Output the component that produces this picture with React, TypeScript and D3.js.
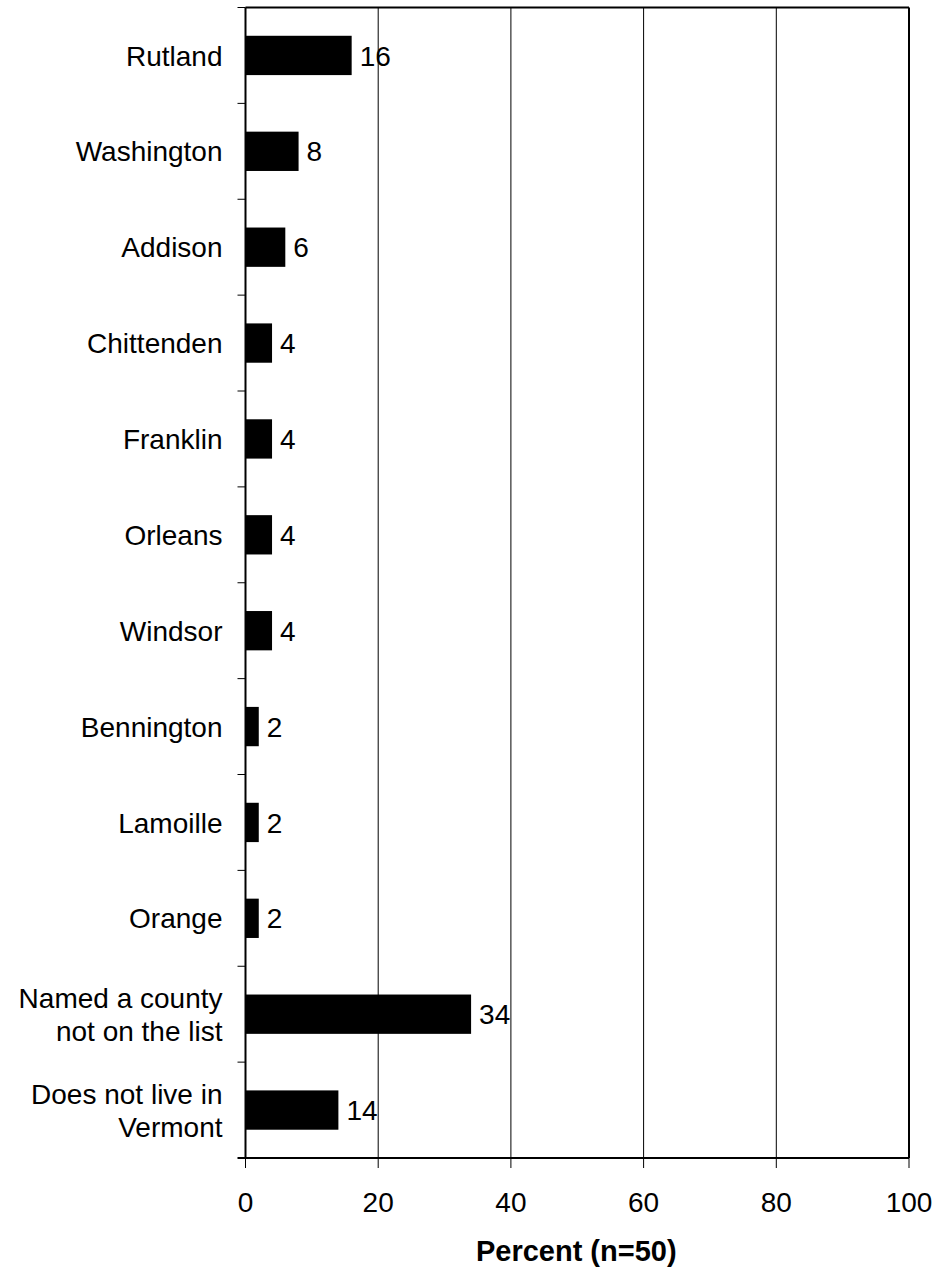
import React from 'react';
import * as d3 from 'd3';

const categories = [
  ['Rutland'],
  ['Washington'],
  ['Addison'],
  ['Chittenden'],
  ['Franklin'],
  ['Orleans'],
  ['Windsor'],
  ['Bennington'],
  ['Lamoille'],
  ['Orange'],
  ['Named a county', 'not on the list'],
  ['Does not live in', 'Vermont'],
];
const values = [16, 8, 6, 4, 4, 4, 4, 2, 2, 2, 34, 14];
const xTicks = [0, 20, 40, 60, 80, 100];
const xTitle = 'Percent (n=50)';

const width = 937;
const height = 1270;
const margin = { top: 7.5, right: 28, bottom: 112, left: 245.5 };
const font = '"Liberation Sans", Arial, sans-serif';

const App = () => {
  const innerW = width - margin.left - margin.right;
  const innerH = height - margin.top - margin.bottom;

  const x = d3.scaleLinear().domain([0, 100]).range([0, innerW]);
  const keys = categories.map((c) => c.join(' '));
  // bars sit in the middle ~40% of each band
  const y = d3.scaleBand().domain(keys).range([0, innerH]).paddingInner(0.59).paddingOuter(0.295);
  const band = d3.scaleBand().domain(keys).range([0, innerH]);

  return (
    <svg width={width} height={height} style={{ position: 'absolute', left: 0, top: 0 }}>
      <rect width={width} height={height} fill="#fff" />
      <g transform={`translate(${margin.left},${margin.top})`} fontFamily={font}>
        {/* gridlines */}
        {xTicks.slice(1, -1).map((t) => (
          <line key={t} x1={x(t)} x2={x(t)} y1={0} y2={innerH} stroke="#000" strokeWidth={1} />
        ))}
        {/* frame top + right */}
        <line x1={0} x2={innerW} y1={0} y2={0} stroke="#000" strokeWidth={2} />
        <line x1={innerW} x2={innerW} y1={0} y2={innerH} stroke="#000" strokeWidth={2} />
        {/* bars */}
        {values.map((v, i) => (
          <g key={i}>
            <rect x={0} y={y(keys[i])} width={x(v)} height={y.bandwidth()} fill="#000" />
            <text
              x={x(v) + 8}
              y={y(keys[i])! + y.bandwidth() / 2}
              dy="0.36em"
              fontSize={28}
            >
              {v}
            </text>
          </g>
        ))}
        {/* left axis */}
        <line x1={0} x2={0} y1={0} y2={innerH} stroke="#000" strokeWidth={2} />
        {keys.map((k) => (
          <line key={k} x1={-8} x2={0} y1={band(k)} y2={band(k)} stroke="#000" strokeWidth={1} />
        ))}
        {categories.map((lines, i) => {
          const cy = band(keys[i])! + band.bandwidth() / 2;
          const lh = 33;
          const y0 = cy - ((lines.length - 1) * lh) / 2;
          return (
            <text key={i} x={-23} textAnchor="end" fontSize={28}>
              {lines.map((l, j) => (
                <tspan key={j} x={-23} y={y0 + j * lh} dy="0.36em">
                  {l}
                </tspan>
              ))}
            </text>
          );
        })}
        {/* bottom axis */}
        <line x1={-8} x2={innerW} y1={innerH} y2={innerH} stroke="#000" strokeWidth={2} />
        {xTicks.map((t) => (
          <g key={t}>
            <line x1={x(t)} x2={x(t)} y1={innerH} y2={innerH + 10} stroke="#000" strokeWidth={1} />
            <text x={x(t)} y={innerH + 54} textAnchor="middle" fontSize={28}>
              {t}
            </text>
          </g>
        ))}
        <text
          x={innerW / 2 - 1}
          y={innerH + 103}
          textAnchor="middle"
          fontSize={29}
          fontWeight="bold"
        >
          {xTitle}
        </text>
      </g>
    </svg>
  );
};

export default App;
